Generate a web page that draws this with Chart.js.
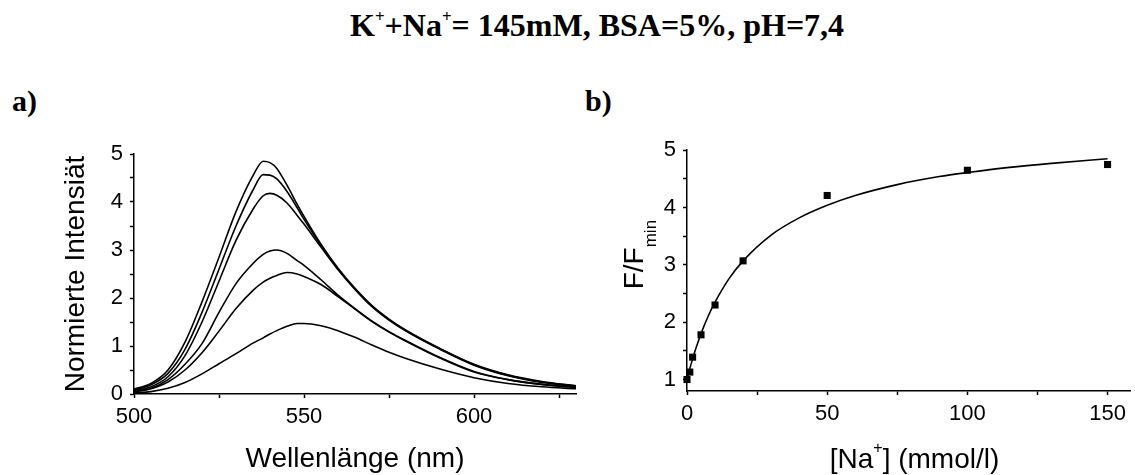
<!DOCTYPE html>
<html>
<head>
<meta charset="utf-8">
<script src="https://cdn.jsdelivr.net/npm/chart.js@4.4.0/dist/chart.umd.min.js"></script>
<style>
  body { margin: 0; width: 1135px; height: 475px; background: #fff; position: relative; overflow: hidden; }
  .serif { position: absolute; font-family: "Liberation Serif", "Times New Roman", serif; font-weight: bold; color: #000; line-height: 1; white-space: nowrap; }
  #title { top: 9px; left: 350px; font-size: 32px; }
  #title .sup { font-size: 17px; position: relative; top: -14px; }
  #labA { top: 86px; left: 12px; font-size: 30px; }
  #labB { top: 86px; left: 585px; font-size: 30px; }
  #boxA { position: absolute; left: 0; top: 130px; width: 590px; height: 345px; }
  #boxB { position: absolute; left: 590px; top: 130px; width: 545px; height: 345px; }
</style>
</head>
<body>
<div id="title" class="serif">K<span class="sup">+</span>+Na<span class="sup">+</span>= 145mM, BSA=5%, pH=7,4</div>
<div id="labA" class="serif">a)</div>
<div id="labB" class="serif">b)</div>
<div id="boxA"><canvas id="spectraChart" width="590" height="345"></canvas></div>
<div id="boxB"><canvas id="bindingChart" width="545" height="345"></canvas></div>
<script>
// a) spectra
const wavelengths = [500, 505, 510, 515, 520, 525, 530, 535, 538, 540, 542, 545, 548, 550, 555, 560, 565, 570, 575, 580, 590, 600, 610, 620, 630];
const spec1 = [0.10, 0.22, 0.50, 1.08, 1.92, 2.85, 3.80, 4.55, 4.85, 4.82, 4.70, 4.35, 3.95, 3.70, 3.12, 2.62, 2.20, 1.84, 1.56, 1.33, 0.95, 0.62, 0.40, 0.26, 0.17];
const spec2 = [0.08, 0.19, 0.43, 0.93, 1.70, 2.60, 3.50, 4.25, 4.57, 4.56, 4.48, 4.22, 3.88, 3.64, 3.10, 2.61, 2.19, 1.83, 1.55, 1.32, 0.94, 0.61, 0.39, 0.25, 0.17];
const spec3 = [0.06, 0.15, 0.36, 0.80, 1.50, 2.35, 3.20, 3.85, 4.13, 4.18, 4.14, 3.98, 3.72, 3.54, 3.06, 2.59, 2.18, 1.82, 1.54, 1.31, 0.93, 0.60, 0.38, 0.24, 0.16];
const spec4 = [0.05, 0.12, 0.30, 0.62, 1.05, 1.70, 2.30, 2.72, 2.91, 2.98, 3.00, 2.93, 2.78, 2.68, 2.38, 2.06, 1.78, 1.52, 1.30, 1.11, 0.76, 0.47, 0.30, 0.20, 0.14];
const spec5 = [0.04, 0.11, 0.25, 0.50, 0.86, 1.31, 1.78, 2.16, 2.33, 2.41, 2.47, 2.53, 2.50, 2.45, 2.28, 2.03, 1.77, 1.51, 1.29, 1.10, 0.75, 0.46, 0.30, 0.20, 0.14];
const spec6 = [0.02, 0.05, 0.12, 0.24, 0.42, 0.63, 0.84, 1.06, 1.17, 1.25, 1.32, 1.41, 1.47, 1.47, 1.42, 1.32, 1.18, 1.02, 0.87, 0.74, 0.52, 0.34, 0.22, 0.15, 0.11];
const spectra = [spec1, spec2, spec3, spec4, spec5, spec6];
const wlTicks = [500, 525, 550, 575, 600, 625];
const intTicks = [0, 0.5, 1, 1.5, 2, 2.5, 3, 3.5, 4, 4.5, 5];

// b) titration
const naConc = [0, 1, 2, 5, 10, 20, 50, 100, 150];
const ratio = [1.00, 1.13, 1.39, 1.78, 2.30, 3.07, 4.21, 4.65, 4.75];
const fitConc = [0, 1, 2, 3, 5, 7.5, 10, 15, 20, 30, 40, 50, 60, 75, 90, 100, 115, 130, 150];
const fitRatio = [1.00, 1.19, 1.36, 1.52, 1.80, 2.10, 2.35, 2.76, 3.07, 3.52, 3.82, 4.04, 4.21, 4.40, 4.54, 4.61, 4.70, 4.77, 4.85];
const concTicks = [0, 25, 50, 75, 100, 125, 150];
const ratioTicks = [1, 1.5, 2, 2.5, 3, 3.5, 4, 4.5, 5];

const sans = '"Liberation Sans", Arial, sans-serif';
Chart.defaults.font.family = sans;
Chart.defaults.color = '#000';

const setTicks = list => s => { s.ticks = list.map(v => ({ value: v })); };

function axisStyle() {
  return {
    grid: { drawOnChartArea: false, drawTicks: true, tickLength: 4, tickColor: '#000', tickWidth: 1.5 },
    border: { color: '#000', width: 1.5 }
  };
}

new Chart(document.getElementById('spectraChart'), {
  type: 'line',
  data: {
    datasets: spectra.map(s => ({
      data: wavelengths.map((w, i) => ({ x: w, y: s[i] })),
      borderColor: '#000',
      borderWidth: 1.6,
      pointRadius: 0,
      cubicInterpolationMode: 'monotone',
      fill: false
    }))
  },
  options: {
    responsive: false,
    animation: false,
    layout: { padding: { top: 24, right: 14, bottom: 0, left: 0 } },
    plugins: { legend: { display: false }, tooltip: { enabled: false } },
    scales: {
      x: {
        type: 'linear', min: 500, max: 630,
        ...axisStyle(),
        ticks: { autoSkip: false, padding: 6, font: { size: 22 }, callback: v => v % 50 === 0 ? v : '' },
        afterBuildTicks: setTicks(wlTicks),
        afterFit: s => { s.height = 81; },
        title: { display: true, text: 'Wellenlänge (nm)', font: { size: 28, lineHeight: 1.1 }, padding: { top: 0, bottom: 0 } }
      },
      y: {
        min: 0, max: 5,
        ...axisStyle(),
        ticks: { autoSkip: false, padding: 7, font: { size: 22 }, callback: v => Number.isInteger(v) ? v : '' },
        afterBuildTicks: setTicks(intTicks),
        afterFit: s => { s.width = 134; },
        title: { display: true, text: 'Normierte Intensiät', font: { size: 28, lineHeight: 1.1 }, padding: { top: 61, bottom: 0 } }
      }
    }
  }
});

// axis titles with super/subscript for chart b
const bTitles = {
  id: 'bTitles',
  afterDraw(chart) {
    const { ctx, chartArea: a } = chart;
    const big = '28px ' + sans;
    const small = '16px ' + sans;
    ctx.save();
    ctx.fillStyle = '#000';
    ctx.textAlign = 'left';
    ctx.textBaseline = 'alphabetic';

    ctx.font = big;
    const w1 = ctx.measureText('[Na').width;
    const w3 = ctx.measureText('] (mmol/l)').width;
    ctx.font = small;
    const w2 = ctx.measureText('+').width;
    let x = (a.left + a.right) / 2 + 6 - (w1 + w2 + w3) / 2;
    const y = chart.height - 7;
    ctx.font = big; ctx.fillText('[Na', x, y); x += w1;
    ctx.font = small; ctx.fillText('+', x, y - 15); x += w2;
    ctx.font = big; ctx.fillText('] (mmol/l)', x, y);

    ctx.font = big;
    const wf = ctx.measureText('F/F').width;
    ctx.font = '17px ' + sans;
    const wm = ctx.measureText('min').width;
    ctx.translate(a.left - 44, (a.top + a.bottom) / 2 - 16 + (wf + wm) / 2);
    ctx.rotate(-Math.PI / 2);
    ctx.font = big; ctx.fillText('F/F', 0, 0);
    ctx.font = '17px ' + sans; ctx.fillText('min', wf, 13);
    ctx.restore();
  }
};

new Chart(document.getElementById('bindingChart'), {
  type: 'scatter',
  data: {
    datasets: [
      {
        data: naConc.map((c, i) => ({ x: c, y: ratio[i] })),
        pointStyle: 'rect',
        pointRadius: 5,
        backgroundColor: '#000',
        borderColor: '#000',
        borderWidth: 0,
        clip: false
      },
      {
        type: 'line',
        data: fitConc.map((c, i) => ({ x: c, y: fitRatio[i] })),
        borderColor: '#000',
        borderWidth: 1.6,
        pointRadius: 0,
        cubicInterpolationMode: 'monotone',
        fill: false
      }
    ]
  },
  options: {
    responsive: false,
    animation: false,
    layout: { padding: { top: 16, right: 4, bottom: 0, left: 0 } },
    plugins: { legend: { display: false }, tooltip: { enabled: false } },
    scales: {
      x: {
        type: 'linear', min: 0, max: 158,
        ...axisStyle(),
        ticks: { autoSkip: false, padding: 6, font: { size: 22 }, callback: v => v % 50 === 0 ? v : '' },
        afterBuildTicks: setTicks(concTicks),
        afterFit: s => { s.height = 84; }
      },
      y: {
        min: 0.8, max: 5,
        ...axisStyle(),
        ticks: { autoSkip: false, padding: 7, font: { size: 22 }, callback: v => Number.isInteger(v) ? v : '' },
        afterBuildTicks: setTicks(ratioTicks),
        afterFit: s => { s.width = 97; }
      }
    }
  },
  plugins: [bTitles]
});
</script>
</body>
</html>
